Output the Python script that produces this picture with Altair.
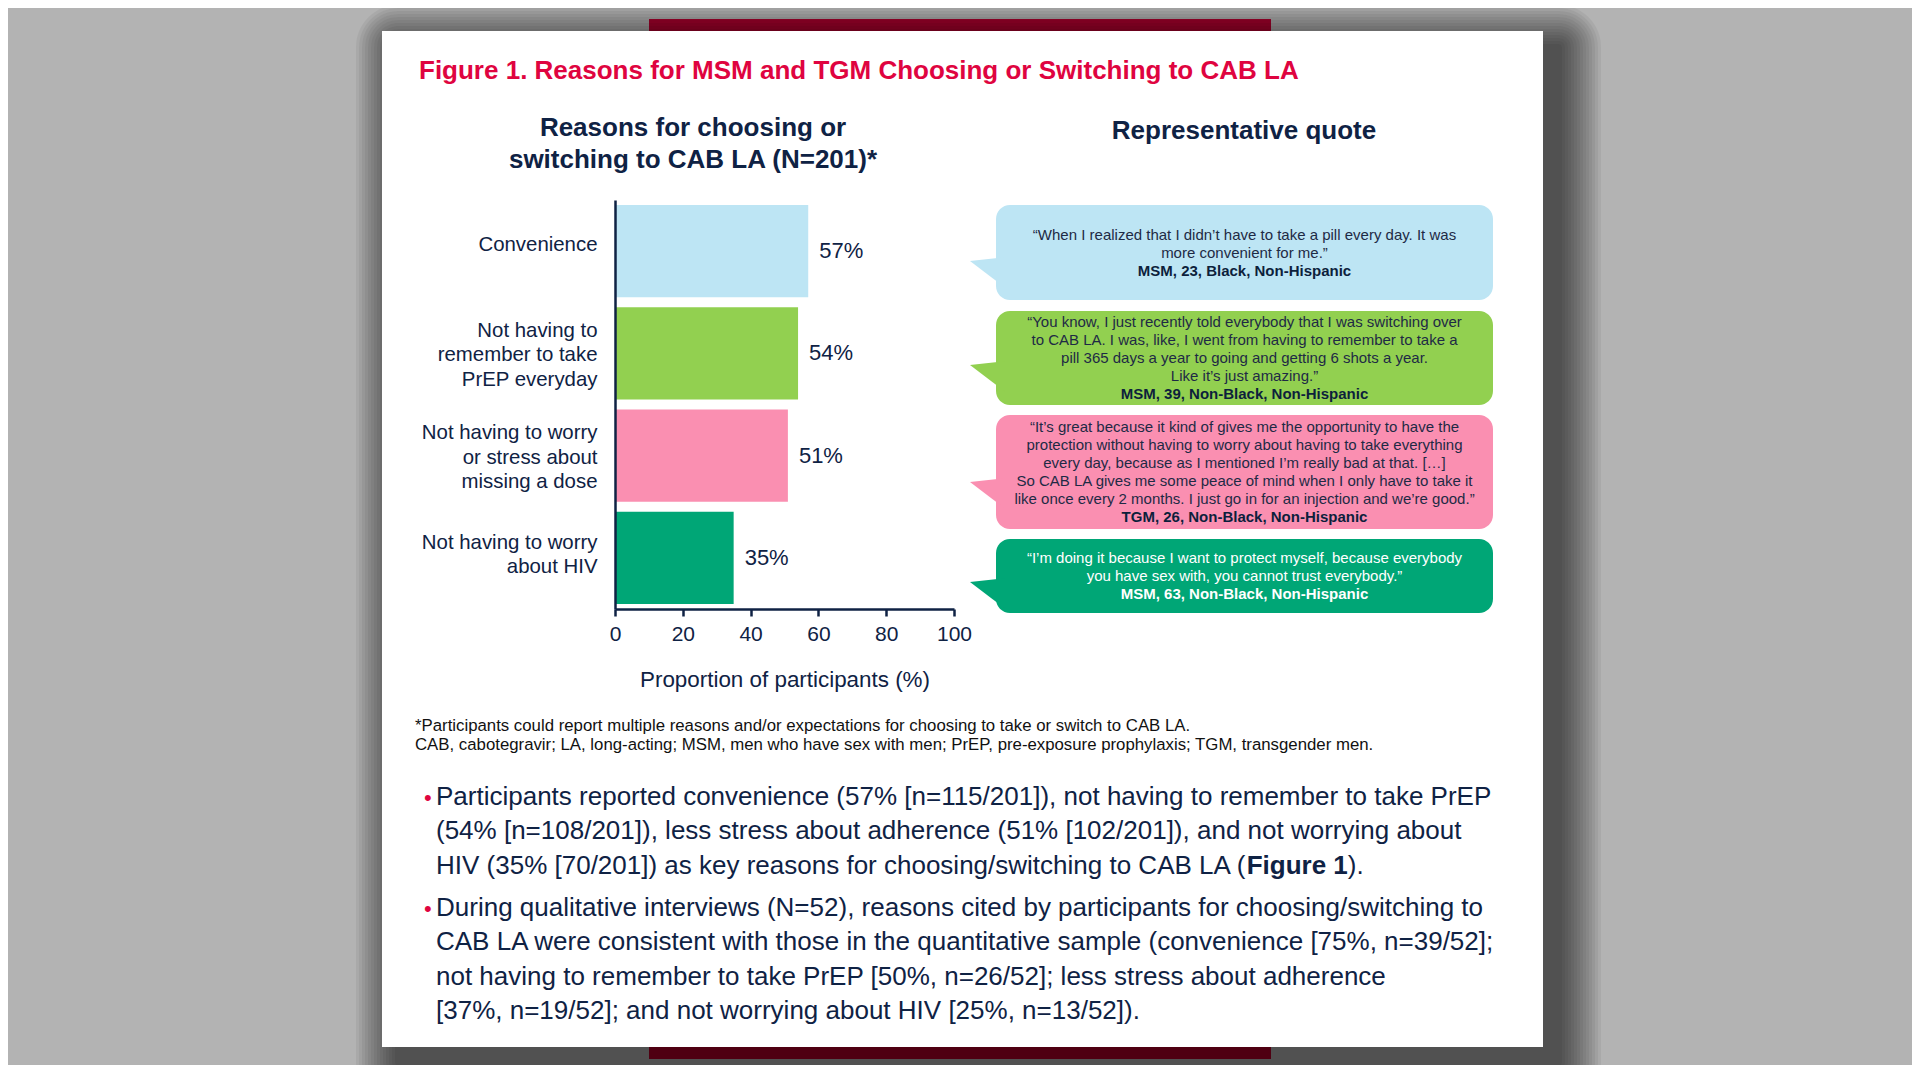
import altair as alt
import pandas as pd

# ---------------- data ----------------
reasons = [
    "Convenience",
    "Not having to\nremember to take\nPrEP everyday",
    "Not having to worry\nor stress about\nmissing a dose",
    "Not having to worry\nabout HIV",
]
percents = [57, 54, 51, 35]
pct_labels = ["57%", "54%", "51%", "35%"]
bar_colors = ["#BDE5F4", "#92D050", "#FA8FB1", "#00A676"]
x_ticks = [0, 20, 40, 60, 80, 100]

quotes = [
    "\u201cWhen I realized that I didn\u2019t have to take a pill every day. It was\nmore convenient for me.\u201d",
    "\u201cYou know, I just recently told everybody that I was switching over\nto CAB LA. I was, like, I went from having to remember to take a\npill 365 days a year to going and getting 6 shots a year.\nLike it\u2019s just amazing.\u201d",
    "\u201cIt\u2019s great because it kind of gives me the opportunity to have the\nprotection without having to worry about having to take everything\nevery day, because as I mentioned I\u2019m really bad at that. [\u2026]\nSo CAB LA gives me some peace of mind when I only have to take it\nlike once every 2 months. I just go in for an injection and we\u2019re good.\u201d",
    "\u201cI\u2019m doing it because I want to protect myself, because everybody\nyou have sex with, you cannot trust everybody.\u201d",
]
attributions = [
    "MSM, 23, Black, Non-Hispanic",
    "MSM, 39, Non-Black, Non-Hispanic",
    "TGM, 26, Non-Black, Non-Hispanic",
    "MSM, 63, Non-Black, Non-Hispanic",
]
quote_colors = ["#1E2A45", "#1E2A45", "#1E2A45", "#FFFFFF"]
attr_colors = ["#0D1F3C", "#0D1F3C", "#0D1F3C", "#FFFFFF"]

fig_title = "Figure 1. Reasons for MSM and TGM Choosing or Switching to CAB LA"
left_title = "Reasons for choosing or\nswitching to CAB LA (N=201)*"
right_title = "Representative quote"
x_title = "Proportion of participants (%)"
footnotes = (
    "*Participants could report multiple reasons and/or expectations for choosing to take or switch to CAB LA.\n"
    "CAB, cabotegravir; LA, long-acting; MSM, men who have sex with men; PrEP, pre-exposure prophylaxis; TGM, transgender men."
)
bullet1 = (
    "Participants reported convenience (57% [n=115/201]), not having to remember to take PrEP\n"
    "(54% [n=108/201]), less stress about adherence (51% [102/201]), and not worrying about\n"
    "HIV (35% [70/201]) as key reasons for choosing/switching to CAB LA ("
)
bullet1_bold = "Figure 1"
bullet1_end = ")."
bullet2 = (
    "During qualitative interviews (N=52), reasons cited by participants for choosing/switching to\n"
    "CAB LA were consistent with those in the quantitative sample (convenience [75%, n=39/52];\n"
    "not having to remember to take PrEP [50%, n=26/52]; less stress about adherence\n"
    "[37%, n=19/52]; and not worrying about HIV [25%, n=13/52])."
)

# ---------------- layout / style ----------------
FONT = "Liberation Sans"
NAVY = "#0F2244"
RED = "#DF0440"
W, H = 339, 409
OX, OY = 615, 200          # page position of plot origin


def px(x):
    return x - OX


def py(y):
    return y - OY


one = pd.DataFrame({"k": [0]})


def rect(x0, y0, x1, y1, color, opacity=1.0, radius=0):
    return alt.Chart(one).mark_rect(
        color=color, opacity=opacity, cornerRadius=radius
    ).encode(
        x=alt.value(px(x0)), x2=alt.value(px(x1)),
        y=alt.value(py(y0)), y2=alt.value(py(y1)),
    )


def text(txt, x, y, size, color, weight="normal", align="left", lh=None):
    kw = dict(font=FONT, fontSize=size, color=color, fontWeight=weight,
              align=align, baseline="alphabetic")
    if lh is not None:
        kw["lineBreak"] = "\n"
        kw["lineHeight"] = lh
    return alt.Chart(one).mark_text(**kw).encode(
        x=alt.value(px(x)), y=alt.value(py(y)), text=alt.value(txt)
    )


layers = []

# red strips behind the card
layers.append(rect(649, 19, 1271, 40, "#AE0030"))
layers.append(rect(649, 1030, 1271, 1059, "#AE0030"))

# drop shadow (offset to lower right, soft)
CX0, CY0, CX1, CY1 = 382, 31, 1543, 1047
SO = 16
for i in range(14):
    s = 3 * (i + 1)
    layers.append(rect(CX0 - s + SO, CY0 - s + SO, CX1 + s + SO, CY1 + s + SO,
                       "#000000", opacity=0.05, radius=s))

# white card
layers.append(rect(CX0, CY0, CX1, CY1, "#FFFFFF"))

# bar chart
nl3 = "length(split(datum.value, '\\n')) == 3"
nl2 = "length(split(datum.value, '\\n')) == 2"
df = pd.DataFrame({"reason": reasons, "pct": percents, "label": pct_labels})
yscale = alt.Scale(domain=reasons, paddingInner=0.1, paddingOuter=0.05)
bars = alt.Chart(df).mark_bar().encode(
    x=alt.X(
        "pct:Q",
        scale=alt.Scale(domain=[0, 100], nice=False),
        axis=alt.Axis(
            values=x_ticks, title=x_title, grid=False, format="d",
            domainColor=NAVY, domainWidth=2.5, tickColor=NAVY, tickWidth=2.5,
            tickSize=7, labelFontSize=21, labelColor=NAVY, labelFont=FONT,
            labelPadding=7.5, labelFlush=False, labelOverlap=False,
            titleFont=FONT, titleFontSize=22.4, titleFontWeight="normal",
            titleColor=NAVY, titlePadding=24, zindex=1,
        ),
    ),
    y=alt.Y(
        "reason:N", sort=reasons, scale=yscale,
        axis=alt.Axis(
            title="", labelExpr="split(datum.label, '\\n')",
            domainColor=NAVY, domainWidth=2.5, ticks=False, tickSize=0,
            labelFontSize=20.4, labelColor=NAVY, labelFont=FONT,
            labelPadding=18, labelLineHeight=24.5, labelAlign="right",
            labelBaseline="middle", labelLimit=0, zindex=1,
            labelOffset={
                "condition": [
                    {"test": nl3, "value": -22.5},
                    {"test": nl2, "value": -15},
                ],
                "value": -6,
            },
        ),
    ),
    color=alt.Color("reason:N", scale=alt.Scale(domain=reasons, range=bar_colors),
                    legend=None),
)
pct_text = alt.Chart(df).mark_text(
    align="left", baseline="middle", dx=11, font=FONT, fontSize=22, color=NAVY
).encode(
    x=alt.X("pct:Q", scale=alt.Scale(domain=[0, 100], nice=False)),
    y=alt.Y("reason:N", sort=reasons, scale=yscale),
    text="label:N",
)
layers += [bars, pct_text]

# titles
layers.append(text(fig_title, 419, 79, 26, RED, weight="bold"))
layers.append(text(left_title, 693, 136, 26, NAVY, weight="bold", align="center", lh=32))
layers.append(text(right_title, 1244, 139, 26, NAVY, weight="bold", align="center"))

# quote bubbles
bubble_boxes = [(205, 300), (311, 405), (415, 529), (539, 613)]
tail_tips = [261, 365, 482, 582]
first_baselines = [240, 327, 432, 563]
BX0, BX1 = 996, 1493
LH = 17.9
tail_path = "M -1 -0.75 L 1.3 -1 L 1.3 1 Z"
for i in range(4):
    y0, y1 = bubble_boxes[i]
    layers.append(rect(BX0, y0, BX1, y1, bar_colors[i], radius=14))
    layers.append(
        alt.Chart(one).mark_point(
            shape=tail_path, filled=True, size=900, opacity=1,
            color=bar_colors[i], strokeWidth=0,
        ).encode(x=alt.value(px(985)), y=alt.value(py(tail_tips[i] + 11.25)))
    )
    nlines = quotes[i].count("\n") + 1
    cx = (BX0 + BX1) / 2
    layers.append(text(quotes[i], cx, first_baselines[i], 15, quote_colors[i],
                       align="center", lh=LH))
    layers.append(text(attributions[i], cx, first_baselines[i] + nlines * LH, 15,
                       attr_colors[i], weight="bold", align="center"))

# footnotes
layers.append(text(footnotes, 415, 730.5, 16.8, "#111111", lh=19))

# bullets
BFS = 26
BLH = 34.3
layers.append(text("\u2022", 424, 805, 22, RED))
layers.append(text(bullet1, 436, 805, BFS, NAVY, lh=BLH))
layers.append(text(bullet1_bold, 436 + 31.18 * BFS, 805 + 2 * BLH, BFS, NAVY, weight="bold"))
layers.append(text(bullet1_end, 436 + 31.18 * BFS + 3.89 * BFS, 805 + 2 * BLH, BFS, NAVY))
layers.append(text("\u2022", 424, 916, 22, RED))
layers.append(text(bullet2, 436, 916, BFS, NAVY, lh=BLH))

TOTAL_W, TOTAL_H = 1904, 1057
chart = alt.layer(*layers).properties(
    width=W, height=H,
    autosize=alt.AutoSizeParams(type="none"),
    padding={"left": OX - 8, "top": OY - 8,
             "right": TOTAL_W - (OX - 8) - W,
             "bottom": TOTAL_H - (OY - 8) - H},
    background="#B3B3B3",
).configure_view(strokeWidth=0)

chart.save("out.html", embed_options={"renderer": "svg", "actions": False})
